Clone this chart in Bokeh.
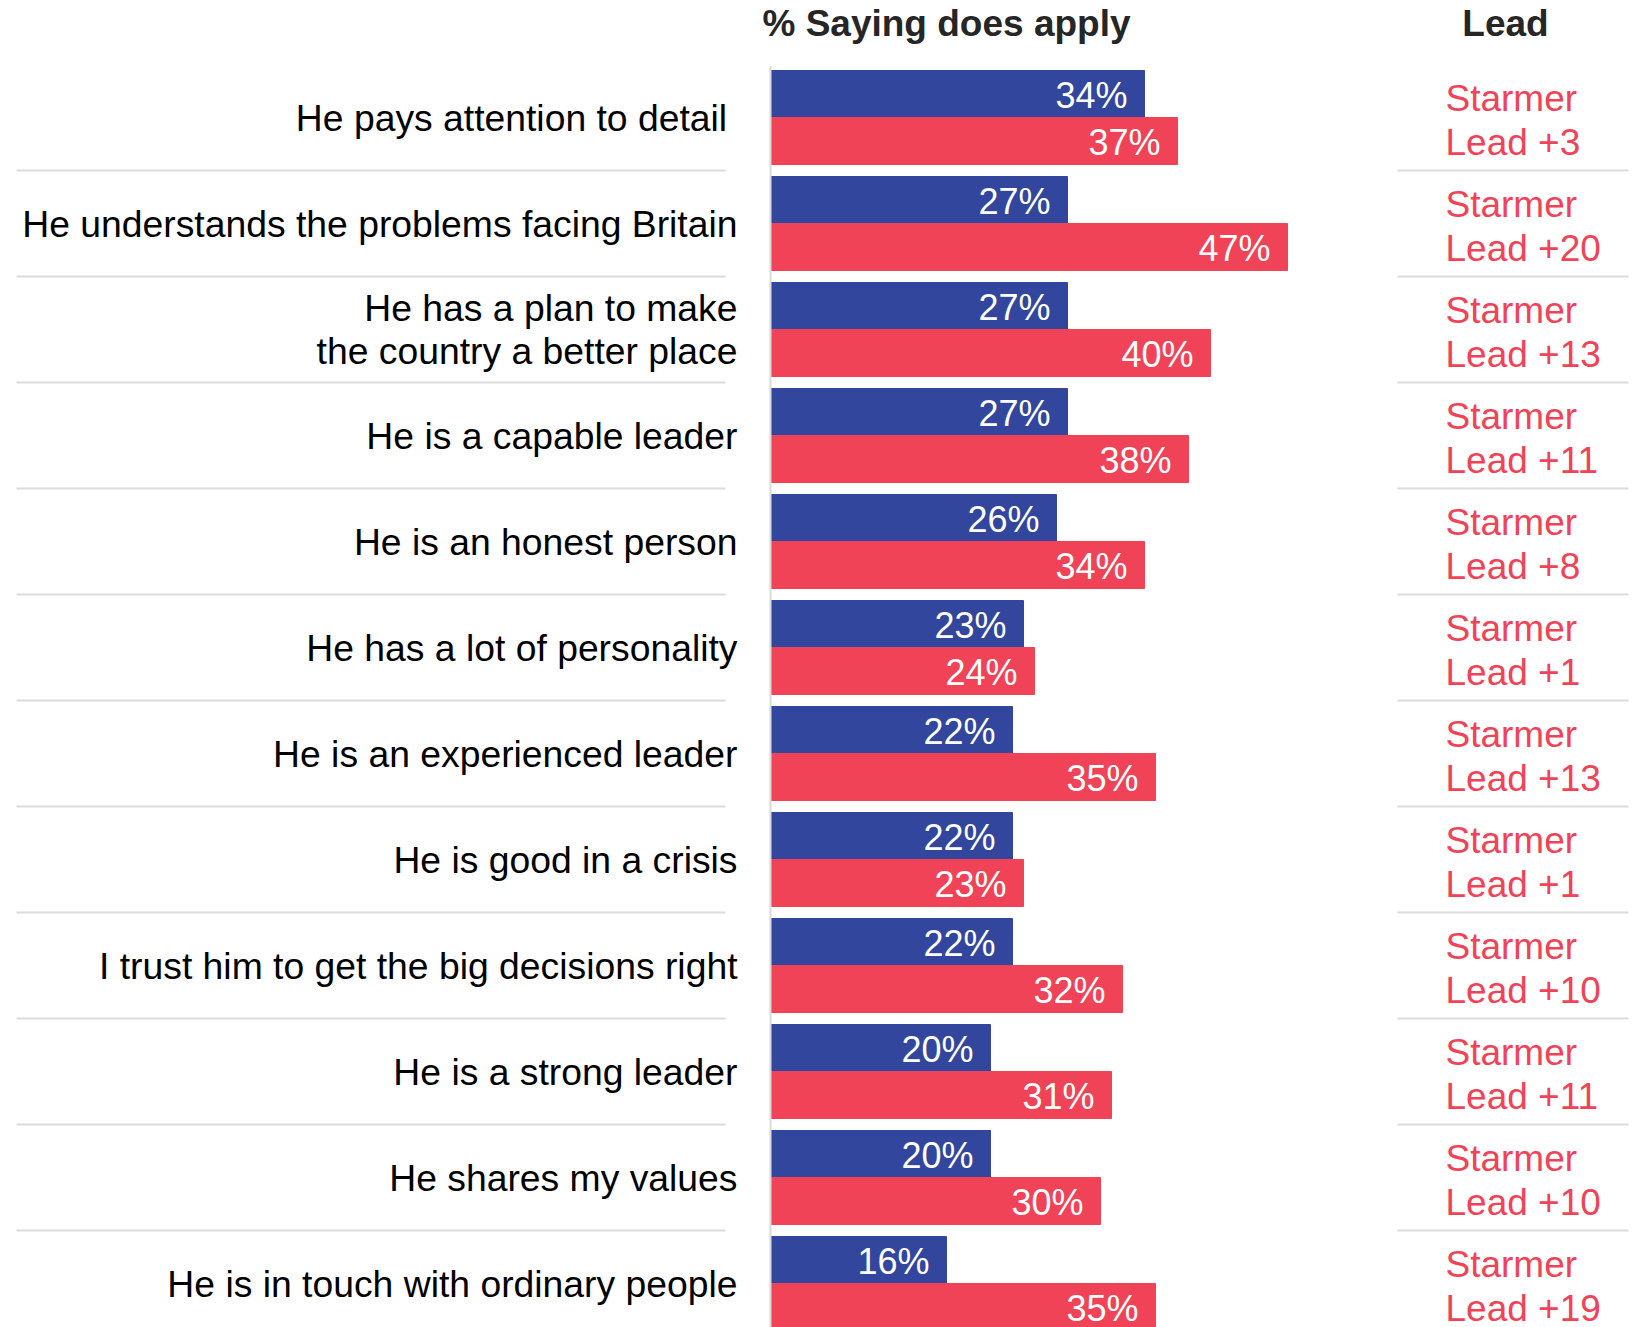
from bokeh.plotting import figure
from bokeh.models import ColumnDataSource, Range1d
from bokeh.transform import dodge
from bokeh.core.properties import value
from bokeh.embed import file_html
from bokeh.resources import INLINE

# ---- data ----
categories = [
    "He pays attention to detail ",
    "He understands the problems facing Britain",
    "He has a plan to make\nthe country a better place",
    "He is a capable leader",
    "He is an honest person",
    "He has a lot of personality",
    "He is an experienced leader",
    "He is good in a crisis",
    "I trust him to get the big decisions right",
    "He is a strong leader",
    "He shares my values",
    "He is in touch with ordinary people",
]
blue_values = [34, 27, 27, 27, 26, 23, 22, 22, 22, 20, 20, 16]
red_values = [37, 47, 40, 38, 34, 24, 35, 23, 32, 31, 30, 35]
lead_name = "Starmer"
title_bars = "% Saying does apply"
title_lead = "Lead"

# ---- layout constants ----
W, H = 1638, 1327
PX = 11.0      # pixels per percentage point
X0 = 770       # pixel position of 0%
ROW = 106.0    # pixels per category row
Y0 = 117.0     # pixel position of first row centre
BAR = 47.0     # pixel height of one bar
BLUE = "#31469c"
RED = "#f14357"
GRID = "#dcdcdc"
FONT = "Liberation Sans"

n = len(categories)
idx = list(range(n))
leads = [r - b for r, b in zip(red_values, blue_values)]
src = ColumnDataSource(dict(
    idx=idx,
    cat=categories,
    blue=blue_values,
    red=red_values,
    blue_lbl=[f"{v}%" for v in blue_values],
    red_lbl=[f"{v}%" for v in red_values],
    lead_lbl=[f"{lead_name}\nLead +{d}" for d in leads],
))

x_range = Range1d(-X0 / PX, (W - X0) / PX)
y_range = Range1d((H - Y0) / ROW, -Y0 / ROW)

p = figure(width=W, height=H, x_range=x_range, y_range=y_range,
           output_backend="svg", toolbar_location=None,
           x_axis_location=None, y_axis_location=None,
           min_border=0, outline_line_color=None,
           background_fill_color="white", border_fill_color="white")
p.xgrid.visible = False
p.ygrid.visible = False

bh = BAR / ROW
# separators
sep_y = [i + 0.5 for i in idx[:-1]]
left_sep_x0 = (16 - X0) / PX
left_sep_x1 = (725 - X0) / PX
right_sep_x0 = (1397 - X0) / PX
right_sep_x1 = (1628 - X0) / PX
p.segment(x0=[left_sep_x0] * len(sep_y), x1=[left_sep_x1] * len(sep_y), y0=sep_y, y1=sep_y,
          line_color=GRID, line_width=2)
p.segment(x0=[right_sep_x0] * len(sep_y), x1=[right_sep_x1] * len(sep_y), y0=sep_y, y1=sep_y,
          line_color=GRID, line_width=2)

# bars
p.hbar(y=dodge("idx", -bh / 2, range=p.y_range), height=bh, left=0, right="blue",
       source=src, fill_color=BLUE, line_color=BLUE, line_width=1)
p.hbar(y=dodge("idx", bh / 2, range=p.y_range), height=bh, left=0, right="red",
       source=src, fill_color=RED, line_color=RED, line_width=1)

# axis line
p.segment(x0=[0], x1=[0], y0=[-bh - 4 / ROW], y1=[n + 1], line_color="#d9d9d9", line_width=2)

# bar value labels
p.text(x="blue", y=dodge("idx", -bh / 2, range=p.y_range), text="blue_lbl", source=src,
       x_offset=-17, y_offset=1, text_align="right", text_baseline="middle",
       text_color="white", text_font=value(FONT), text_font_size="36px")
p.text(x="red", y=dodge("idx", bh / 2, range=p.y_range), text="red_lbl", source=src,
       x_offset=-17, y_offset=1, text_align="right", text_baseline="middle",
       text_color="white", text_font=value(FONT), text_font_size="36px")

# category labels
p.text(x=0, y="idx", text="cat", source=src, x_offset=-33,
       text_align="right", text_baseline="middle", text_line_height=1.04,
       text_color="black", text_font=value(FONT), text_font_size="37.3px")

# lead labels
lead_x = (1445 - X0) / PX
p.text(x=lead_x, y="idx", text="lead_lbl", source=src, y_offset=3,
       text_align="left", text_baseline="middle", text_line_height=1.08,
       text_color=RED, text_font=value(FONT), text_font_size="37px")

# column titles
p.text(x=[(946 - X0) / PX], y=[0], text=[title_bars], y_offset=-94,
       text_align="center", text_baseline="middle",
       text_color="#262626", text_font=value(FONT), text_font_size="37px",
       text_font_style="bold")
p.text(x=[(1505 - X0) / PX], y=[0], text=[title_lead], y_offset=-94,
       text_align="center", text_baseline="middle",
       text_color="#262626", text_font=value(FONT), text_font_size="37px",
       text_font_style="bold")

open("out.html", "w").write(file_html(p, INLINE))
